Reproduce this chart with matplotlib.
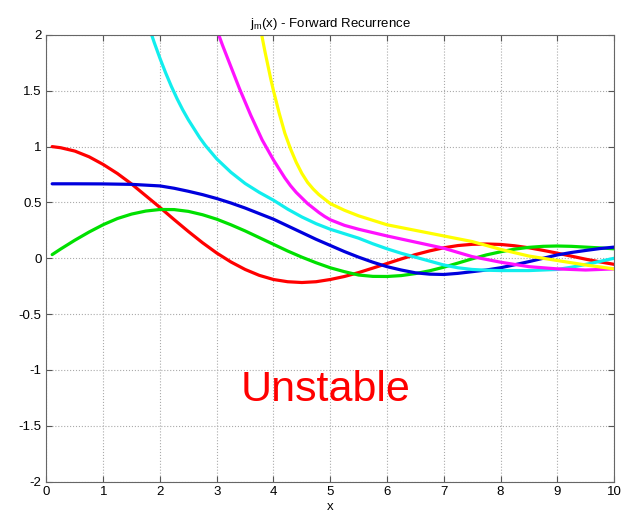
import matplotlib
matplotlib.use('Agg')
import matplotlib.pyplot as plt

# values, one list pair per curve
x_red = [0.1, 0.25, 0.5, 0.75, 1, 1.25, 1.5, 1.75, 2, 2.25, 2.5, 2.75, 3, 3.25, 3.5, 3.75, 4, 4.25, 4.5, 4.75, 5,
         5.25, 5.5, 5.75, 6, 6.25, 6.5, 6.75, 7, 7.25, 7.5, 7.75, 8, 8.25, 8.5, 8.75, 9, 9.25, 9.5, 9.75, 10]
y_red = [1.0, 0.99, 0.96, 0.909, 0.84, 0.759, 0.665, 0.56, 0.455, 0.346, 0.24, 0.139, 0.047, -0.033, -0.10, -0.153,
         -0.19, -0.21, -0.217, -0.21, -0.19, -0.163, -0.128, -0.088, -0.047, -0.006, 0.033, 0.066, 0.094, 0.114,
         0.125, 0.128, 0.124, 0.112, 0.094, 0.071, 0.046, 0.019, -0.008, -0.032, -0.054]

x_green = [0.1, 0.25, 0.5, 0.75, 1, 1.25, 1.5, 1.75, 2, 2.25, 2.5, 2.75, 3, 3.25, 3.5, 3.75, 4, 4.25, 4.5, 4.75, 5,
           5.25, 5.5, 5.75, 6, 6.25, 6.5, 6.75, 7, 7.25, 7.5, 7.75, 8, 8.25, 8.5, 8.75, 9, 9.25, 9.5, 9.75, 10]
y_green = [0.033, 0.083, 0.162, 0.235, 0.301, 0.356, 0.396, 0.423, 0.437, 0.436, 0.42, 0.39, 0.35, 0.30, 0.245,
           0.185, 0.125, 0.065, 0.01, -0.04, -0.085, -0.12, -0.15, -0.162, -0.163, -0.155, -0.137, -0.112, -0.08,
           -0.043, -0.005, 0.03, 0.058, 0.082, 0.098, 0.107, 0.11, 0.107, 0.1, 0.093, 0.085]

x_blue = [0.1, 0.5, 1, 1.5, 2, 2.25, 2.5, 2.75, 3, 3.25, 3.5, 3.75, 4, 4.25, 4.5, 4.75, 5, 5.25, 5.5, 5.75, 6,
          6.25, 6.5, 6.75, 7, 7.25, 7.5, 7.75, 8, 8.25, 8.5, 8.75, 9, 9.25, 9.5, 9.75, 10]
y_blue = [0.667, 0.667, 0.666, 0.662, 0.648, 0.627, 0.60, 0.57, 0.535, 0.495, 0.45, 0.40, 0.35, 0.29, 0.23, 0.17,
          0.115, 0.06, 0.01, -0.035, -0.075, -0.105, -0.13, -0.142, -0.145, -0.135, -0.12, -0.105, -0.085, -0.058,
          -0.03, 0.0, 0.03, 0.052, 0.07, 0.087, 0.10]

x_cyan = [1.7, 1.8, 1.9, 2.0, 2.1, 2.2, 2.3, 2.4, 2.5, 2.6, 2.7, 2.8, 2.9, 3.0, 3.25, 3.5, 3.75, 4, 4.25, 4.5, 4.75,
          5, 5.25, 5.5, 5.75, 6, 6.25, 6.5, 6.75, 7, 7.25, 7.5, 7.75, 8, 8.5, 9, 9.25, 9.5, 9.75, 10]
y_cyan = [2.25, 2.08, 1.93, 1.79, 1.66, 1.54, 1.43, 1.33, 1.24, 1.16, 1.08, 1.01, 0.95, 0.89, 0.77, 0.67, 0.59, 0.52,
          0.44, 0.37, 0.31, 0.26, 0.22, 0.18, 0.13, 0.085, 0.045, 0.01, -0.025, -0.06, -0.085, -0.1, -0.107, -0.11,
          -0.11, -0.10, -0.08, -0.055, -0.028, 0.0]

x_magenta = [2.9, 3.0, 3.1, 3.2, 3.3, 3.4, 3.5, 3.6, 3.7, 3.8, 3.9, 4.0, 4.1, 4.2, 4.3, 4.4, 4.5, 4.6, 4.7, 4.8, 4.9,
             5.0, 5.25, 5.5, 5.75, 6, 6.5, 7, 7.5, 8, 8.5, 9, 9.5, 10]
y_magenta = [2.2, 2.05, 1.91, 1.78, 1.65, 1.52, 1.40, 1.28, 1.17, 1.06, 0.97, 0.88, 0.8, 0.72, 0.65, 0.59, 0.54, 0.49,
             0.45, 0.41, 0.375, 0.345, 0.295, 0.26, 0.23, 0.2, 0.145, 0.09, 0.015, -0.035, -0.075, -0.095, -0.105,
             -0.095]

x_yellow = [3.7, 3.75, 3.8, 3.85, 3.9, 3.95, 4.0, 4.05, 4.1, 4.15, 4.2, 4.3, 4.4, 4.5, 4.6, 4.7, 4.8, 4.9, 5.0,
            5.25, 5.5, 5.75, 6, 6.5, 7, 7.5, 8, 8.5, 9, 9.5, 10]
y_yellow = [2.25, 2.12, 1.98, 1.85, 1.73, 1.61, 1.5, 1.4, 1.3, 1.21, 1.12, 0.98, 0.86, 0.76, 0.68, 0.62, 0.57, 0.53,
            0.49, 0.43, 0.38, 0.34, 0.3, 0.25, 0.2, 0.15, 0.08, 0.02, -0.02, -0.06, -0.095]

xticks = [0, 1, 2, 3, 4, 5, 6, 7, 8, 9, 10]
yticks = [-2, -1.5, -1, -0.5, 0, 0.5, 1, 1.5, 2]
ytick_labels = ['-2', '-1.5', '-1', '-0.5', '0', '0.5', '1', '1.5', '2']

plt.rcParams['font.family'] = ['Liberation Sans', 'DejaVu Sans']

fig = plt.figure(figsize=(6.24, 5.14), dpi=100)
ax = fig.add_axes([0.0745, 0.063, 0.9095, 0.869])

lw = 2.3
for xs, ys, c in [(x_red, y_red, '#ff0000'), (x_green, y_green, '#00e000'), (x_blue, y_blue, '#0000dd'),
                  (x_cyan, y_cyan, '#11eeee'), (x_magenta, y_magenta, '#ff11ff'), (x_yellow, y_yellow, '#ffff00')]:
    ax.plot(xs, ys, color=c, lw=lw, solid_joinstyle='round', solid_capstyle='round')

ax.set_xlim(0, 10)
ax.set_ylim(-2, 2)
ax.set_xticks(xticks)
ax.set_yticks(yticks)
ax.set_xticklabels([str(t) for t in xticks])
ax.set_yticklabels(ytick_labels)
ax.tick_params(direction='in', length=4, labelsize=9.5, top=True, right=True, color='#555555')
ax.grid(True, color='#aaaaaa', linestyle=':', linewidth=0.8)
for s in ax.spines.values():
    s.set_color('#666666')

ax.set_title(r'j$_{\mathregular{m}}$(x) - Forward Recurrence', fontsize=9.5, pad=6)
ax.set_xlabel('x', fontsize=9.5, labelpad=2)

ax.text(4.91, -1.18, 'Unstable', color='#ff0000', fontsize=31, ha='center', va='center')

fig.savefig('out.png', dpi=100)
